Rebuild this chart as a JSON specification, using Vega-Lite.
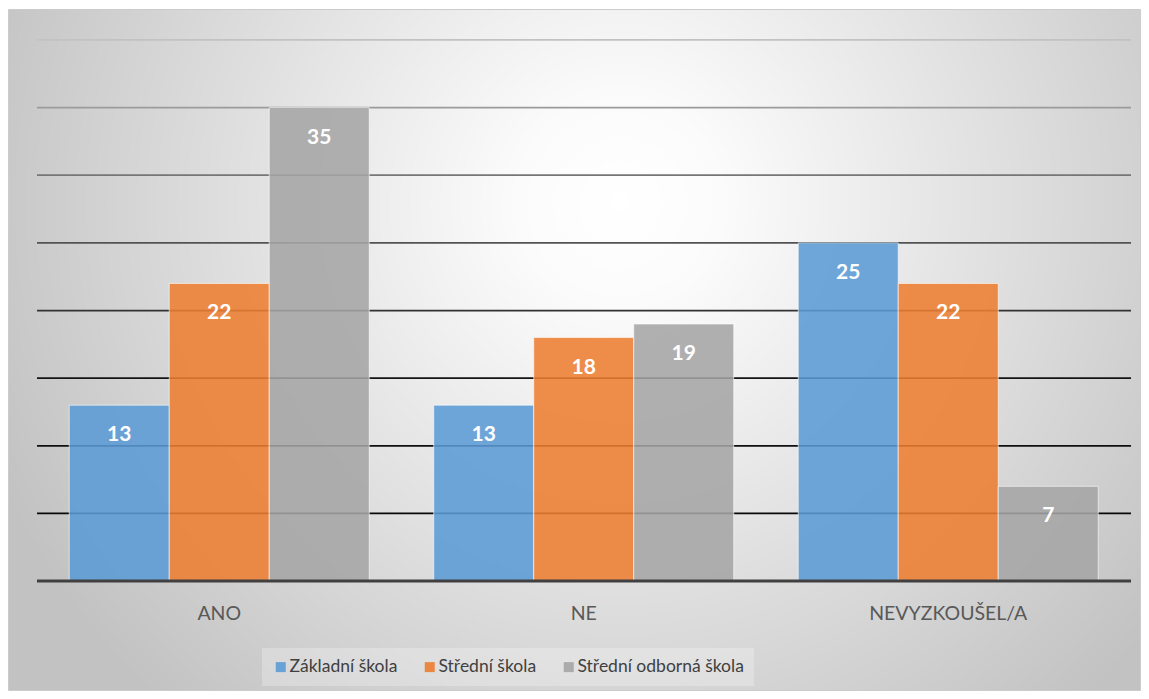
{
  "$schema": "https://vega.github.io/schema/vega-lite/v6.json",
  "width": 1132,
  "height": 681,
  "padding": {"left": 8, "top": 9, "right": 9, "bottom": 9},
  "autosize": {"type": "none"},
  "background": "white",
  "config": {
    "view": {
      "stroke": "#cccccc",
      "strokeWidth": 1,
      "fill": {
        "gradient": "radial",
        "x1": 0.54, "y1": 0.37, "r1": 0,
        "x2": 0.54, "y2": 0.37, "r2": 0.6,
        "stops": [
          {"offset": 0, "color": "#ffffff"},
          {"offset": 0.15, "color": "#fbfbfb"},
          {"offset": 1, "color": "#c2c2c2"}
        ]
      }
    },
    "font": "Lato"
  },
  "datasets": {
    "bars": [
      {"kategorie": "ANO", "skola": "Základní škola", "pocet": 13},
      {"kategorie": "ANO", "skola": "Střední škola", "pocet": 22},
      {"kategorie": "ANO", "skola": "Střední odborná škola", "pocet": 35},
      {"kategorie": "NE", "skola": "Základní škola", "pocet": 13},
      {"kategorie": "NE", "skola": "Střední škola", "pocet": 18},
      {"kategorie": "NE", "skola": "Střední odborná škola", "pocet": 19},
      {"kategorie": "NEVYZKOUŠEL/A", "skola": "Základní škola", "pocet": 25},
      {"kategorie": "NEVYZKOUŠEL/A", "skola": "Střední škola", "pocet": 22},
      {"kategorie": "NEVYZKOUŠEL/A", "skola": "Střední odborná škola", "pocet": 7}
    ],
    "grid": [
      {"v": 5}, {"v": 10}, {"v": 15}, {"v": 20}, {"v": 25}, {"v": 30}, {"v": 35}, {"v": 40}
    ],
    "base": [{"v": 0}]
  },
  "resolve": {"scale": {"x": "independent"}},
  "layer": [
    {
      "data": {"name": "grid"},
      "mark": {"type": "rule", "strokeWidth": 1.75},
      "encoding": {
        "y": {"field": "v", "type": "quantitative", "axis": null,
              "scale": {"domain": [-8.059, 42.292], "nice": false, "zero": false}},
        "x": {"datum": 0, "type": "quantitative", "axis": null,
              "scale": {"domain": [-0.02651, 1.00822], "nice": false, "zero": false}},
        "x2": {"datum": 1},
        "stroke": {"field": "v", "type": "quantitative", "legend": null,
                   "scale": {"domain": [0, 15, 40], "range": ["#000000", "#141414", "#c2c2c2"]}}
      }
    },
    {
      "data": {"name": "bars"},
      "layer": [
        {
          "mark": {"type": "bar", "fillOpacity": 0.88, "stroke": "#ffffff", "strokeWidth": 1, "strokeOpacity": 0.6},
          "encoding": {
            "x": {"field": "kategorie", "type": "nominal", "title": null,
                  "scale": {"domain": ["ANO", "NE", "NEVYZKOUŠEL/A"], "paddingInner": 0, "paddingOuter": 0.0528, "align": 0.753},
                  "axis": {"orient": "bottom", "offset": -109, "domain": false, "ticks": false, "grid": false,
                           "labelAngle": 0, "labelFontSize": 19.5, "labelColor": "#595959", "labelFont": "Lato",
                           "labelBaseline": "middle", "labelPadding": 32}},
            "xOffset": {"field": "skola", "type": "nominal",
                        "scale": {"domain": ["Základní škola", "Střední škola", "Střední odborná škola"], "paddingInner": 0, "paddingOuter": 0.3225}},
            "y": {"field": "pocet", "type": "quantitative", "axis": null},
            "y2": {"datum": 0},
            "color": {"field": "skola", "type": "nominal", "title": null,
                      "scale": {"domain": ["Základní škola", "Střední škola", "Střední odborná škola"], "range": ["#5B9BD5", "#ED7D31", "#A5A5A5"]},
                      "legend": {"orient": "none", "legendX": 254, "legendY": 639, "direction": "horizontal",
                                 "symbolType": "square", "symbolSize": 100, "symbolStrokeWidth": 0, "symbolOpacity": 0.9,
                                 "labelFontSize": 17.5, "labelColor": "#404040", "labelFont": "Lato", "labelOffset": 0,
                                 "columnPadding": 23, "padding": 10, "fillColor": "rgba(255,255,255,0.25)", "labelLimit": 300}}
          }
        },
        {
          "mark": {"type": "text", "color": "#ffffff", "fontWeight": "bold", "fontSize": 21, "font": "Lato", "baseline": "middle", "dy": 30},
          "encoding": {
            "x": {"field": "kategorie", "type": "nominal"},
            "xOffset": {"field": "skola", "type": "nominal",
                        "scale": {"domain": ["Základní škola", "Střední škola", "Střední odborná škola"], "paddingInner": 0, "paddingOuter": 0.3225}},
            "y": {"field": "pocet", "type": "quantitative", "axis": null},
            "text": {"field": "pocet", "type": "quantitative"}
          }
        }
      ]
    },
    {
      "data": {"name": "base"},
      "mark": {"type": "rule", "strokeWidth": 3, "color": "#404040"},
      "encoding": {
        "y": {"field": "v", "type": "quantitative", "axis": null},
        "x": {"datum": 0, "type": "quantitative", "axis": null,
              "scale": {"domain": [-0.02651, 1.00822], "nice": false, "zero": false}},
        "x2": {"datum": 1}
      }
    }
  ]
}
